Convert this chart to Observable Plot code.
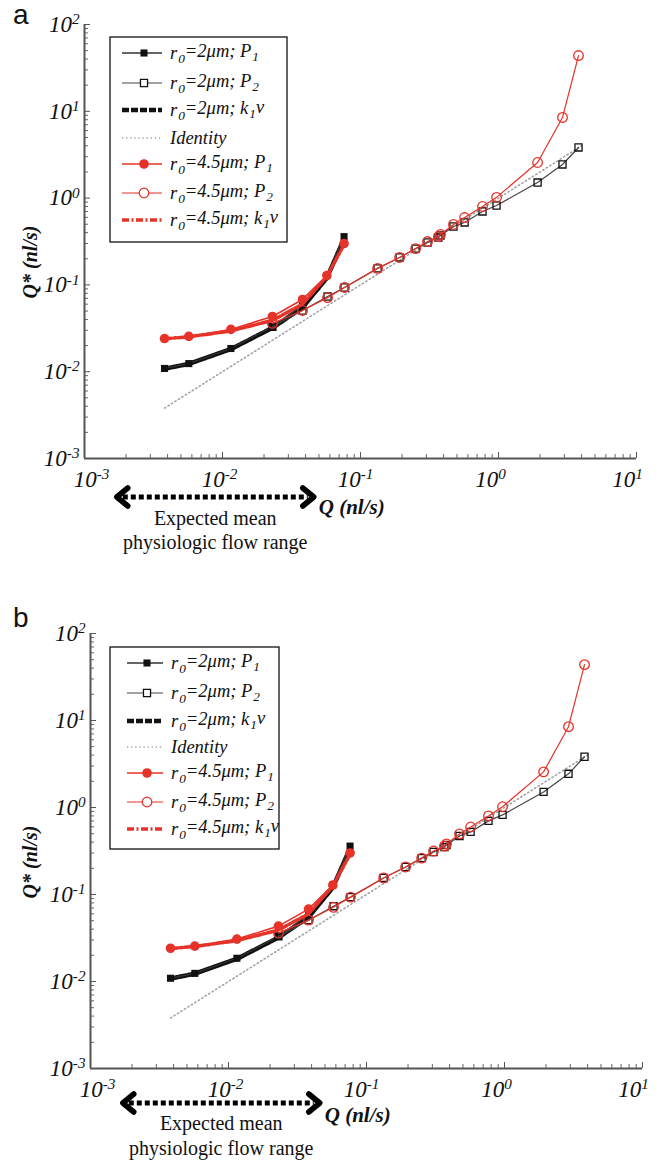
<!DOCTYPE html>
<html><head><meta charset="utf-8">
<script src="https://cdn.jsdelivr.net/npm/d3@7"></script>
<script src="https://cdn.jsdelivr.net/npm/@observablehq/plot@0.6"></script>
<style>
body{margin:0;background:#fff;}
#chart{width:659px;}
#chart svg{display:block;}
</style></head><body><div id="chart"></div>
<script>
// ---- data ----
const qP1 = [0.0038, 0.0057, 0.0115, 0.023, 0.038, 0.057, 0.076];
const black2P1 = [0.0109, 0.0124, 0.0185, 0.033, 0.058, 0.128, 0.36];
const red45P1 = [0.0241, 0.0255, 0.0307, 0.0433, 0.068, 0.128, 0.30];
const black2K = [0.0108, 0.0123, 0.0182, 0.032, 0.055, 0.12, 0.34];
const red45K = [0.0240, 0.0252, 0.0295, 0.039, 0.060, 0.125, 0.29];
const qP2 = [0.023, 0.038, 0.0577, 0.0766, 0.133, 0.192, 0.251, 0.306, 0.367, 0.38, 0.472, 0.568, 0.766, 0.968, 1.92, 2.91, 3.80];
const black2P2 = [0.033, 0.0507, 0.0734, 0.0933, 0.155, 0.207, 0.262, 0.308, 0.351, 0.371, 0.471, 0.524, 0.702, 0.822, 1.51, 2.44, 3.83];
const red45P2 = [0.036, 0.0507, 0.0713, 0.0933, 0.155, 0.207, 0.262, 0.316, 0.36, 0.381, 0.497, 0.597, 0.80, 1.02, 2.57, 8.49, 43.9];
const qIdentity = [0.0038, 4.0];
const flowRange = [0.0017, 0.047];
const decadesX = [1e-3, 1e-2, 1e-1, 1, 10];
const decadesY = [1e-3, 1e-2, 1e-1, 1, 10, 100];
const legendLabels = ["r_0=2μm; P_1", "r_0=2μm; P_2", "r_0=2μm; k_1ν", "Identity", "r_0=4.5μm; P_1", "r_0=4.5μm; P_2", "r_0=4.5μm; k_1ν"];
const panelLetters = ["a", "b"];
const xLabel = "Q (nl/s)";
const yLabel = "Q* (nl/s)";
const rangeText = ["Expected mean", "physiologic flow range"];

// ---- styles ----
const RED = "#e63329";
const styles = [
  {stroke: "#333", w: 1.3, marker: "square", fill: "#111"},
  {stroke: "#444", w: 1.2, marker: "square", fill: "none", mstroke: "#111"},
  {stroke: "#111", w: 4.5, dash: "7,2"},
  {stroke: "#a3a3a3", w: 1.6, dash: "1.3,2.8"},
  {stroke: RED, w: 1.6, marker: "circle", fill: RED},
  {stroke: RED, w: 1.2, marker: "circle", fill: "none", mstroke: RED},
  {stroke: RED, w: 3.5, dash: "7,2.5,2,2.5"}
];
const xLabelShift = [7, -3, -5, -8, -9];
const rows = (qs, vs) => qs.map((q, i) => ({q, v: vs[i]}));
const minorX = decadesX.slice(0, -1).flatMap(d => [2,3,4,5,6,7,8,9].map(k => d * k));
const minorY = decadesY.slice(0, -1).flatMap(d => [2,3,4,5,6,7,8,9].map(k => d * k));
const fmt = d => "10^" + Math.round(Math.log10(d));
const SERIF = "Liberation Serif, Times New Roman, serif";

const panels = [
  {height: 600, ml: 84, mr: 23, mt: 24, mb: 142, letterY: 24,
   legend: {x: 110, y: 37, w: 177, h: 205, rows: [53, 83, 110, 138, 164, 193, 220], sx0: 122, sx1: 162, tx: 170},
   arrowDy: 39, qDy: 49, t1Dy: 60, t2Dy: 84, yLabelY: 262},
  {height: 564, ml: 90, mr: 17, mt: 33, mb: 96, letterY: 27,
   legend: {x: 110, y: 47, w: 169, h: 202, rows: [63, 93, 121, 147, 173, 202, 229], sx0: 127, sx1: 163, tx: 171},
   arrowDy: 35, qDy: 47, t1Dy: 55, t2Dy: 80, yLabelY: 262}
];

function lineMark(data, s) {
  return Plot.line(data, {x: "q", y: "v", stroke: s.stroke, strokeWidth: s.w, strokeDasharray: s.dash, curve: "linear"});
}
function dotMark(data, s) {
  return Plot.dot(data, {x: "q", y: "v", symbol: s.marker, r: s.marker === "square" ? 4 : 4.8,
    fill: s.fill, stroke: s.mstroke || "none", strokeWidth: 1.3});
}

function supText(sel, shifts) {
  sel.each(function(d, i) {
    const t = this.textContent;
    const m = /^10\^(-?\d)$/.exec(t);
    if (!m) return;
    const el = d3.select(this);
    el.text("");
    el.attr("font-family", SERIF).attr("font-style", "italic");
    if (shifts) el.attr("x", shifts[i] || 0);
    el.append("tspan").text("10");
    el.append("tspan").attr("dy", "-0.5em").attr("font-size", "0.66em").text(m[1]);
  });
}

function richText(el, str) {
  const parts = str.split(/(_.)/).filter(p => p !== "");
  let shifted = false;
  parts.forEach(p => {
    if (p[0] === "_") {
      el.append("tspan").attr("dy", "0.3em").attr("dx", "1").attr("font-size", "0.72em").text(p[1]);
      shifted = true;
    } else {
      const ts = el.append("tspan").text(p);
      if (shifted) { ts.attr("dy", "-0.3em"); shifted = false; }
    }
  });
}

const container = d3.select("#chart");

panels.forEach((P, pi) => {
  const data = {
    id: rows(qIdentity, qIdentity),
    bK: rows(qP1, black2K), bP1: rows(qP1, black2P1), bP2: rows(qP2, black2P2),
    rK: rows(qP1, red45K), rP1: rows(qP1, red45P1), rP2: rows(qP2, red45P2)
  };
  const plot = Plot.plot({
    width: 659, height: P.height,
    marginLeft: P.ml, marginRight: P.mr, marginTop: P.mt, marginBottom: P.mb,
    style: {fontFamily: SERIF, background: "white", color: "#111"},
    x: {type: "log", domain: [1e-3, 10], label: null},
    y: {type: "log", domain: [1e-3, 100], label: null},
    marks: [
      Plot.axisX(minorX, {tickSize: -4, tickFormat: () => "", stroke: "#666", label: null}),
      Plot.axisX(decadesX, {tickSize: -6, tickPadding: 18, tickFormat: fmt, stroke: "#555",
        fontSize: 23, label: null}),
      Plot.axisY(minorY, {tickSize: -4, tickFormat: () => "", stroke: "#666", label: null}),
      Plot.axisY(decadesY, {tickSize: -6, tickPadding: 11, tickFormat: fmt, stroke: "#555",
        fontSize: 23, label: null}),
      Plot.ruleY([1e-3], {stroke: "#555", strokeWidth: 2}),
      Plot.ruleX([1e-3], {stroke: "#555", strokeWidth: 2}),
      lineMark(data.id, styles[3]),
      lineMark(data.bK, styles[2]),
      lineMark(data.bP1, styles[0]), dotMark(data.bP1, styles[0]),
      lineMark(data.bP2, styles[1]), dotMark(data.bP2, styles[1]),
      lineMark(data.rK, styles[6]),
      lineMark(data.rP1, styles[4]), dotMark(data.rP1, styles[4]),
      lineMark(data.rP2, styles[5]), dotMark(data.rP2, styles[5])
    ]
  });
  container.node().appendChild(plot);
  const svg = d3.select(plot);
  svg.attr("font-family", SERIF);
  const xt = svg.selectAll('g[aria-label="x-axis tick label"] text').filter(function() { return this.textContent !== ""; });
  supText(xt, xLabelShift);
  supText(svg.selectAll('g[aria-label="y-axis tick label"] text'));

  const sx = plot.scale("x");
  const axisY = P.height - P.mb;

  // panel letter
  svg.append("text").attr("x", 13).attr("y", P.letterY).attr("text-anchor", "start")
    .attr("font-family", "Liberation Sans, Arial, sans-serif").attr("font-size", 28)
    .attr("fill", "#111").text(panelLetters[pi]);

  // y label
  svg.append("text")
    .attr("transform", `translate(30,${P.yLabelY}) rotate(-90)`)
    .attr("text-anchor", "middle").attr("dy", "0.35em")
    .attr("font-family", SERIF).attr("font-size", 20).attr("font-weight", "bold").attr("font-style", "italic")
    .attr("fill", "#111").text(yLabel);

  // flow range arrow
  const xa = sx.apply(flowRange[0]), xb = sx.apply(flowRange[1]);
  const ay = axisY + P.arrowDy;
  const ga = svg.append("g").attr("stroke", "#000").attr("fill", "none");
  ga.append("line").attr("x1", xa + 7).attr("x2", xb - 7).attr("y1", ay).attr("y2", ay)
    .attr("stroke-width", 5).attr("stroke-dasharray", "5,3");
  ga.append("path").attr("d", `M${xa + 12},${ay - 9}L${xa + 1},${ay}L${xa + 12},${ay + 9}`)
    .attr("stroke-width", 5.5).attr("stroke-linecap", "round").attr("stroke-linejoin", "round");
  ga.append("path").attr("d", `M${xb - 12},${ay - 9}L${xb - 1},${ay}L${xb - 12},${ay + 9}`)
    .attr("stroke-width", 5.5).attr("stroke-linecap", "round").attr("stroke-linejoin", "round");
  const xm = (xa + xb) / 2;
  svg.append("text").attr("x", xm).attr("y", axisY + P.t1Dy).attr("dy", "0.35em").attr("text-anchor", "middle")
    .attr("font-family", SERIF).attr("font-size", 20).attr("fill", "#111").text(rangeText[0]);
  svg.append("text").attr("x", xm).attr("y", axisY + P.t2Dy).attr("dy", "0.35em").attr("text-anchor", "middle")
    .attr("font-family", SERIF).attr("font-size", 20).attr("fill", "#111").text(rangeText[1]);
  svg.append("text").attr("x", xb + 4).attr("y", axisY + P.qDy).attr("dy", "0.35em").attr("text-anchor", "start")
    .attr("font-family", SERIF).attr("font-size", 21).attr("font-weight", "bold").attr("font-style", "italic")
    .attr("fill", "#111").text(xLabel);

  // legend
  const L = P.legend;
  const gl = svg.append("g");
  gl.append("rect").attr("x", L.x).attr("y", L.y).attr("width", L.w).attr("height", L.h)
    .attr("fill", "white").attr("stroke", "#111").attr("stroke-width", 1.3);
  legendLabels.forEach((lab, i) => {
    const s = styles[i], y = L.rows[i];
    gl.append("line").attr("x1", L.sx0).attr("x2", L.sx1).attr("y1", y).attr("y2", y)
      .attr("stroke", s.stroke).attr("stroke-width", s.w).attr("stroke-dasharray", s.dash || null);
    if (s.marker) {
      const cx = (L.sx0 + L.sx1) / 2 + 2;
      const sym = d3.symbol(s.marker === "square" ? d3.symbolSquare : d3.symbolCircle, s.marker === "square" ? 50 : 72)();
      gl.append("path").attr("d", sym).attr("transform", `translate(${cx},${y})`)
        .attr("fill", s.fill === "none" ? "white" : s.fill).attr("stroke", s.mstroke || "none").attr("stroke-width", 1.3);
    }
    const t = gl.append("text").attr("x", L.tx).attr("y", y).attr("dy", "0.32em").attr("text-anchor", "start")
      .attr("font-family", SERIF).attr("font-size", 18.5).attr("font-style", "italic").attr("fill", "#111");
    richText(t, lab);
  });
});
</script>
</body></html>
